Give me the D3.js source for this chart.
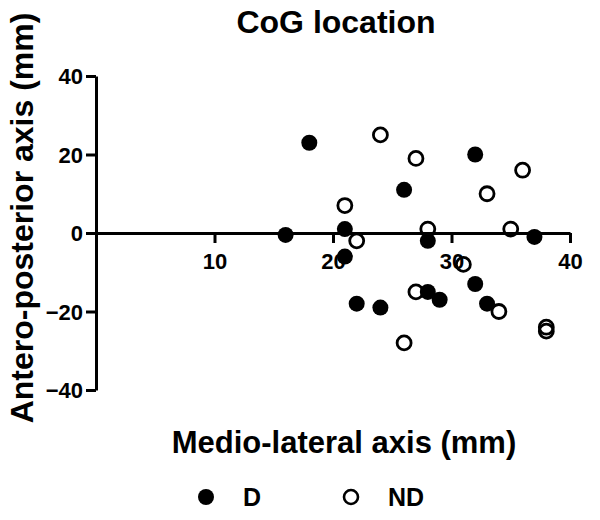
<!DOCTYPE html>
<html>
<head>
<meta charset="utf-8">
<script src="https://cdn.jsdelivr.net/npm/d3@7"></script>
<style>
  body { margin: 0; background: #fff; }
  text { font-family: "Liberation Sans", Arial, sans-serif; font-weight: bold; fill: #000; }
</style>
</head>
<body>
<div id="chart"></div>
<script>
// data (mm)
const dX  = [18, 16, 32, 26, 21, 28, 37, 21, 32, 28, 29, 22, 24, 33];
const dY  = [23, -0.5, 20, 11, 1, -2, -1, -6, -13, -15, -17, -18, -19, -18];
const ndX = [24, 27, 36, 33, 21, 22, 28, 35, 31, 27, 34, 38, 38, 26];
const ndY = [25, 19, 16, 10, 7, -2, 1, 1, -8, -15, -20, -24, -25, -28];
const xTicks = [10, 20, 30, 40];
const yTicks = [-40, -20, 0, 20, 40];
const seriesNames = ['D', 'ND'];

const width = 600, height = 520;

var svg = d3.select('#chart').append('svg')
	.attr('width', width)
	.attr('height', height);

// scales
var x = d3.scaleLinear().domain([0, 40]).range([96, 570]);
var y = d3.scaleLinear().domain([-40, 40]).range([390, 76]);

// y axis on x = 0
var yAxis = svg.append('g')
	.attr('transform', 'translate(' + x(0) + ',0)')
	.call(d3.axisLeft(y).tickValues(yTicks).tickSize(10).tickSizeOuter(0).tickPadding(3));

// x axis crossing at y = 0
var xAxis = svg.append('g')
	.attr('transform', 'translate(0,' + y(0) + ')')
	.call(d3.axisBottom(x).tickValues(xTicks).tickSize(10).tickSizeOuter(0).tickPadding(9));

// make axes heavy, like the original
svg.selectAll('.domain, .tick line')
	.attr('stroke', '#000')
	.attr('stroke-width', 3);
svg.selectAll('.tick text')
	.style('font-size', '22px')
	.style('font-family', '"Liberation Sans", Arial, sans-serif')
	.style('font-weight', 'bold')
	.attr('fill', '#000');
yAxis.selectAll('.tick text').attr('dy', '0.36em');
xAxis.selectAll('.tick text').attr('dy', '0.75em');

// ND points, open
svg.append('g').selectAll('circle')
	.data(d3.zip(ndX, ndY)).enter().append('circle')
	.attr('cx', function(d){ return x(d[0]); })
	.attr('cy', function(d){ return y(d[1]); })
	.attr('r', 7)
	.attr('fill', 'none')
	.attr('stroke', '#000')
	.attr('stroke-width', 2.8);

// D points, filled
svg.append('g').selectAll('circle')
	.data(d3.zip(dX, dY)).enter().append('circle')
	.attr('cx', function(d){ return x(d[0]); })
	.attr('cy', function(d){ return y(d[1]); })
	.attr('r', 8)
	.attr('fill', '#000');

// title and axis titles
svg.append('text')
	.attr('x', 336).attr('y', 33)
	.attr('text-anchor', 'middle')
	.style('font-size', '32px')
	.text('CoG location');

svg.append('text')
	.attr('x', 344).attr('y', 453)
	.attr('text-anchor', 'middle')
	.style('font-size', '31px')
	.text('Medio-lateral axis (mm)');

svg.append('text')
	.attr('transform', 'translate(33,218) rotate(-90)')
	.attr('text-anchor', 'middle')
	.style('font-size', '32px')
	.text('Antero-posterior axis (mm)');

// legend
var legend = svg.append('g').selectAll('g')
	.data(seriesNames).enter().append('g')
	.attr('transform', function(d, i){ return 'translate(' + (206 + i * 145) + ',497)'; });

legend.append('circle')
	.attr('r', function(d, i){ return i == 0 ? 8 : 7; })
	.attr('fill', function(d, i){ return i == 0 ? '#000' : 'none'; })
	.attr('stroke', function(d, i){ return i == 0 ? 'none' : '#000'; })
	.attr('stroke-width', 2.6);

legend.append('text')
	.attr('x', 37).attr('y', 9)
	.style('font-size', '25px')
	.text(function(d){ return d; });
</script>
</body>
</html>
